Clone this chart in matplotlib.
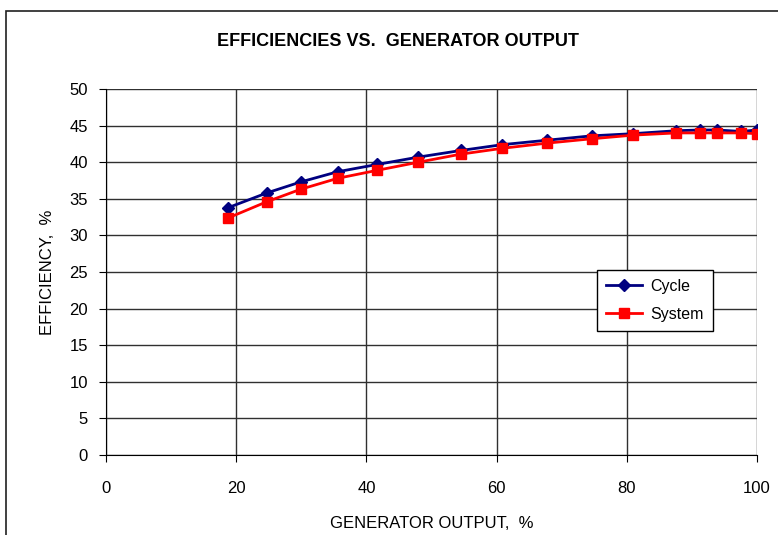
import matplotlib.pyplot as plt
from matplotlib.patches import Rectangle

# generator output, %
output = [18.8, 24.7, 29.9, 35.6, 41.7, 48.0, 54.5, 60.9, 67.7, 74.6,
          81.0, 87.6, 91.3, 93.8, 97.6, 100.0]
# efficiencies, %
cycle = [33.8, 35.8, 37.3, 38.7, 39.7, 40.7, 41.6, 42.4, 43.0, 43.6,
         43.9, 44.3, 44.4, 44.4, 44.2, 44.4]
system = [32.4, 34.6, 36.3, 37.8, 38.9, 40.0, 41.1, 41.9, 42.6, 43.2,
          43.7, 44.0, 44.0, 44.0, 44.0, 43.9]

plt.rcParams['font.family'] = ['Liberation Sans Narrow', 'Liberation Sans', 'DejaVu Sans']

fig = plt.figure(figsize=(7.78, 5.35), dpi=100)
ax = fig.add_axes([106/778, 80/535, 651/778, 366/535])

# outer chart border (cropped at right / bottom)
fig.patches.append(Rectangle((6/778, -0.1), 1.2, (535-11)/535 + 0.1,
                             transform=fig.transFigure, fill=False,
                             edgecolor='#202020', lw=1.2))

ax.plot(output, cycle, color='#000080', marker='D', ms=6, lw=2, label='Cycle')
ax.plot(output, system, color='#FF0000', marker='s', ms=6.5, lw=2, label='System')

ax.set_xlim(0, 100)
ax.set_ylim(0, 50)
ax.set_xticks(range(0, 101, 20))
ax.set_yticks(range(0, 51, 5))
ax.grid(True, color='#303030', lw=1)
ax.set_axisbelow(True)
for s in ['top', 'right']:
    ax.spines[s].set_visible(False)
ax.spines['left'].set_color('black')
ax.spines['bottom'].set_color('black')
ax.tick_params(direction='out', length=5, labelsize=12, color='black')
ax.tick_params(axis='x', pad=14)
ax.tick_params(axis='y', pad=8)

ax.set_xlabel('GENERATOR OUTPUT,  %', fontsize=12, labelpad=14)
ax.set_ylabel('EFFICIENCY,  %', fontsize=12, labelpad=10)
fig.text(398/778, 1 - 42/535, 'EFFICIENCIES VS.  GENERATOR OUTPUT',
         ha='center', va='center', fontsize=13, fontweight='bold')

leg = ax.legend(loc='upper left', bbox_to_anchor=(0.754, 0.505), fontsize=11.5,
                fancybox=False, framealpha=1, edgecolor='black',
                handlelength=2.3, handletextpad=0.5, borderpad=0.55,
                labelspacing=0.8, borderaxespad=0)
leg.get_frame().set_linewidth(1)

fig.savefig('out.png', dpi=100)
